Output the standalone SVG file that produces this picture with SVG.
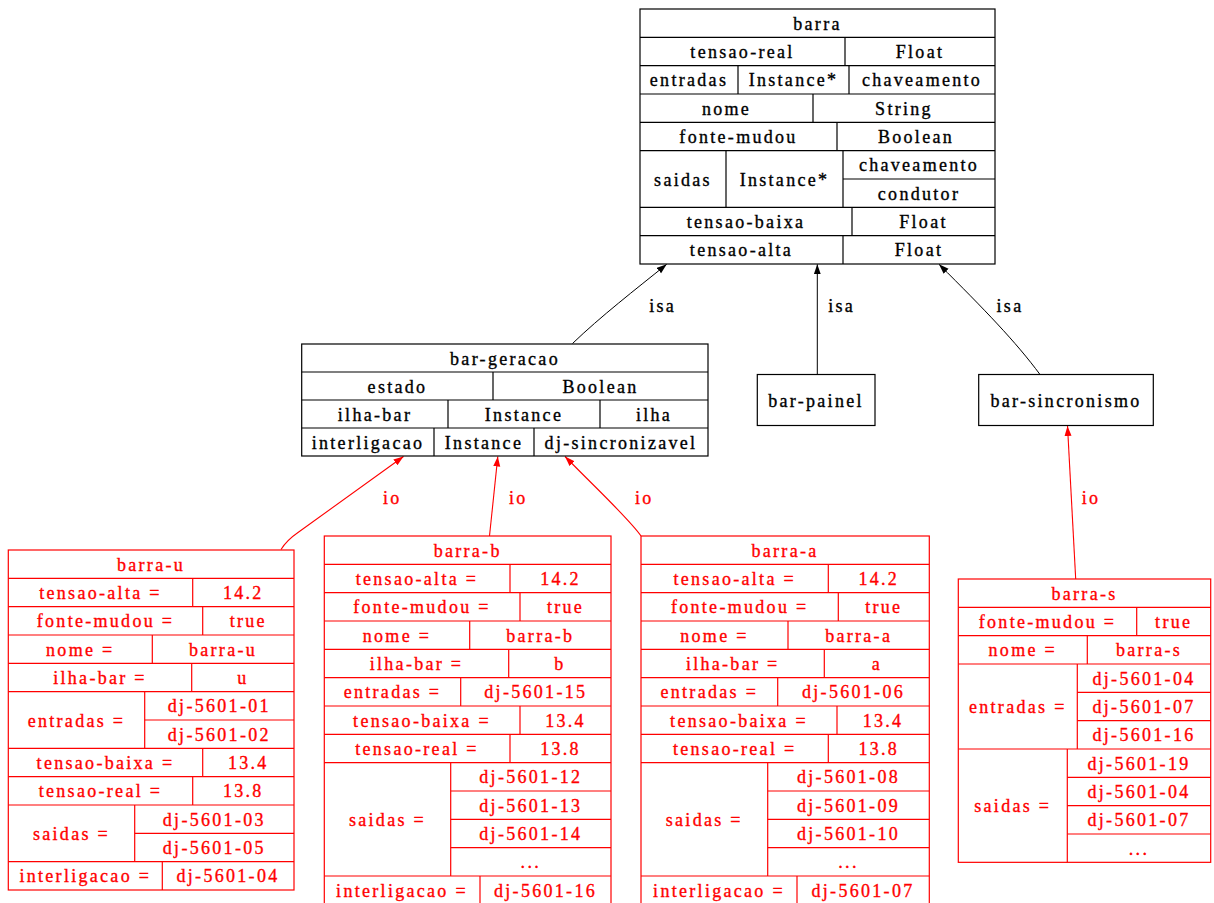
<svg xmlns="http://www.w3.org/2000/svg" width="1214" height="903" viewBox="0 0 1214 903">
<style>
text{font-family:"Liberation Serif","Times New Roman",serif;font-size:18px;letter-spacing:2.3px;text-anchor:middle;stroke-width:0.35px}
.k text,text.k{fill:#000;stroke:#000}
.r text,text.r{fill:#f00;stroke:#f00}
.k rect,.k line{fill:none;stroke:#000;stroke-width:1.2}
.r rect,.r line{fill:none;stroke:#f00;stroke-width:1.2}
.ek{fill:none;stroke:#000;stroke-width:1}
.er{fill:none;stroke:#f00;stroke-width:1.1}
</style>
<defs>
<marker id="ak" markerUnits="userSpaceOnUse" markerWidth="11" markerHeight="8" refX="10" refY="3.5" orient="auto"><path d="M0,0 L10,3.5 L0,7 z" fill="#000"/></marker>
<marker id="ar" markerUnits="userSpaceOnUse" markerWidth="11" markerHeight="8" refX="10" refY="3.5" orient="auto"><path d="M0,0 L10,3.5 L0,7 z" fill="#f00"/></marker>
</defs>
<rect width="1214" height="903" fill="#fff"/>

<g id="connectors">
<path class="ek" d="M572.5,343.5 C600,317 636,289 666.7,264.3" marker-end="url(#ak)"/>
<path class="ek" d="M817.3,374.5 L817.3,264.3" marker-end="url(#ak)"/>
<path class="ek" d="M1040,374.5 C1016,342 984,309 939,264.3" marker-end="url(#ak)"/>
<text class="k" x="662.7" y="311.5">isa</text>
<text class="k" x="841.7" y="311.5">isa</text>
<text class="k" x="1010" y="311.5">isa</text>
<path class="er" d="M281,549.5 C285,543 290,538 298,532.5 L403.5,456.5" marker-end="url(#ar)"/>
<path class="er" d="M489.5,536 L497.8,456.5" marker-end="url(#ar)"/>
<path class="er" d="M641,536 C630,520 605,497 565,456.5" marker-end="url(#ar)"/>
<path class="er" d="M1075.7,579 L1067.5,426" marker-end="url(#ar)"/>
<text class="r" x="392.3" y="503.5">io</text>
<text class="r" x="518.3" y="503.5">io</text>
<text class="r" x="644.3" y="503.5">io</text>
<text class="r" x="1091" y="503.5">io</text>
</g>

<g id="barra" class="k">
<rect x="640" y="9" width="355" height="255"/>
<line x1="640" y1="37.33" x2="995" y2="37.33"/>
<line x1="640" y1="65.67" x2="995" y2="65.67"/>
<line x1="640" y1="94" x2="995" y2="94"/>
<line x1="640" y1="122.33" x2="995" y2="122.33"/>
<line x1="640" y1="150.67" x2="995" y2="150.67"/>
<line x1="843" y1="179" x2="995" y2="179"/>
<line x1="640" y1="207.33" x2="995" y2="207.33"/>
<line x1="640" y1="235.67" x2="995" y2="235.67"/>
<line x1="845" y1="37.33" x2="845" y2="65.67"/>
<line x1="738" y1="65.67" x2="738" y2="94"/>
<line x1="849" y1="65.67" x2="849" y2="94"/>
<line x1="813" y1="94" x2="813" y2="122.33"/>
<line x1="837" y1="122.33" x2="837" y2="150.67"/>
<line x1="726" y1="150.67" x2="726" y2="207.33"/>
<line x1="843" y1="150.67" x2="843" y2="207.33"/>
<line x1="852" y1="207.33" x2="852" y2="235.67"/>
<line x1="843" y1="235.67" x2="843" y2="264"/>
<text x="817.5" y="29.7">barra</text>
<text x="742.5" y="58">tensao-real</text>
<text x="920" y="58">Float</text>
<text x="689" y="86.3">entradas</text>
<text x="793.5" y="86.3">Instance*</text>
<text x="922" y="86.3">chaveamento</text>
<text x="726.5" y="114.7">nome</text>
<text x="904" y="114.7">String</text>
<text x="738.5" y="143">fonte-mudou</text>
<text x="916" y="143">Boolean</text>
<text x="683" y="185.5">saidas</text>
<text x="784.5" y="185.5">Instance*</text>
<text x="919" y="171.3">chaveamento</text>
<text x="919" y="199.7">condutor</text>
<text x="746" y="228">tensao-baixa</text>
<text x="923.5" y="228">Float</text>
<text x="741.5" y="256.3">tensao-alta</text>
<text x="919" y="256.3">Float</text>
</g>

<g id="bar-geracao" class="k">
<rect x="301.7" y="344" width="406.3" height="112"/>
<line x1="301.7" y1="372" x2="708" y2="372"/>
<line x1="301.7" y1="400" x2="708" y2="400"/>
<line x1="301.7" y1="428" x2="708" y2="428"/>
<line x1="493" y1="372" x2="493" y2="400"/>
<line x1="448" y1="400" x2="448" y2="428"/>
<line x1="600" y1="400" x2="600" y2="428"/>
<line x1="434" y1="428" x2="434" y2="456"/>
<line x1="534" y1="428" x2="534" y2="456"/>
<text x="505" y="364.5">bar-geracao</text>
<text x="397.5" y="392.5">estado</text>
<text x="600.5" y="392.5">Boolean</text>
<text x="375" y="420.5">ilha-bar</text>
<text x="524" y="420.5">Instance</text>
<text x="654" y="420.5">ilha</text>
<text x="368" y="448.5">interligacao</text>
<text x="484" y="448.5">Instance</text>
<text x="621" y="448.5">dj-sincronizavel</text>
</g>

<g id="bar-painel" class="k">
<rect x="757.3" y="374.5" width="117.7" height="51"/>
<text x="816" y="406.5">bar-painel</text>
</g>

<g id="bar-sincronismo" class="k">
<rect x="978.7" y="374.5" width="174.6" height="51"/>
<text x="1066" y="406.5">bar-sincronismo</text>
</g>

<g id="barra-u" class="r">
<rect x="8.3" y="550" width="285.7" height="340"/>
<line x1="8.3" y1="578.33" x2="294" y2="578.33"/>
<line x1="8.3" y1="606.67" x2="294" y2="606.67"/>
<line x1="8.3" y1="635" x2="294" y2="635"/>
<line x1="8.3" y1="663.33" x2="294" y2="663.33"/>
<line x1="8.3" y1="691.67" x2="294" y2="691.67"/>
<line x1="144.7" y1="720" x2="294" y2="720"/>
<line x1="8.3" y1="748.33" x2="294" y2="748.33"/>
<line x1="8.3" y1="776.67" x2="294" y2="776.67"/>
<line x1="8.3" y1="805" x2="294" y2="805"/>
<line x1="134.7" y1="833.33" x2="294" y2="833.33"/>
<line x1="8.3" y1="861.67" x2="294" y2="861.67"/>
<line x1="192.7" y1="578.33" x2="192.7" y2="606.67"/>
<line x1="202.7" y1="606.67" x2="202.7" y2="635"/>
<line x1="152.3" y1="635" x2="152.3" y2="663.33"/>
<line x1="191.7" y1="663.33" x2="191.7" y2="691.67"/>
<line x1="144.7" y1="691.67" x2="144.7" y2="748.33"/>
<line x1="202.7" y1="748.33" x2="202.7" y2="776.67"/>
<line x1="192.7" y1="776.67" x2="192.7" y2="805"/>
<line x1="134.7" y1="805" x2="134.7" y2="861.67"/>
<line x1="162.3" y1="861.67" x2="162.3" y2="890"/>
<text x="151" y="570.7">barra-u</text>
<text x="100.5" y="599">tensao-alta =</text>
<text x="243.3" y="599">14.2</text>
<text x="105.5" y="627.3">fonte-mudou =</text>
<text x="248.3" y="627.3">true</text>
<text x="80.3" y="655.7">nome =</text>
<text x="223" y="655.7">barra-u</text>
<text x="100" y="684">ilha-bar =</text>
<text x="243" y="684">u</text>
<text x="76.5" y="726.5">entradas =</text>
<text x="219.3" y="712.3">dj-5601-01</text>
<text x="219.3" y="740.7">dj-5601-02</text>
<text x="105.5" y="769">tensao-baixa =</text>
<text x="248.3" y="769">13.4</text>
<text x="100.5" y="797.3">tensao-real =</text>
<text x="243.3" y="797.3">13.8</text>
<text x="71.5" y="839.8">saidas =</text>
<text x="214.3" y="825.7">dj-5601-03</text>
<text x="214.3" y="854">dj-5601-05</text>
<text x="85.3" y="882.3">interligacao =</text>
<text x="228" y="882.3">dj-5601-04</text>
</g>

<g id="barra-b" class="r">
<rect x="324.3" y="536" width="286.7" height="368.33"/>
<line x1="324.3" y1="564.33" x2="611" y2="564.33"/>
<line x1="324.3" y1="592.67" x2="611" y2="592.67"/>
<line x1="324.3" y1="621" x2="611" y2="621"/>
<line x1="324.3" y1="649.33" x2="611" y2="649.33"/>
<line x1="324.3" y1="677.67" x2="611" y2="677.67"/>
<line x1="324.3" y1="706" x2="611" y2="706"/>
<line x1="324.3" y1="734.33" x2="611" y2="734.33"/>
<line x1="324.3" y1="762.67" x2="611" y2="762.67"/>
<line x1="450.7" y1="791" x2="611" y2="791"/>
<line x1="450.7" y1="819.33" x2="611" y2="819.33"/>
<line x1="450.7" y1="847.67" x2="611" y2="847.67"/>
<line x1="324.3" y1="876" x2="611" y2="876"/>
<line x1="510" y1="564.33" x2="510" y2="592.67"/>
<line x1="520" y1="592.67" x2="520" y2="621"/>
<line x1="469.7" y1="621" x2="469.7" y2="649.33"/>
<line x1="508.7" y1="649.33" x2="508.7" y2="677.67"/>
<line x1="460.7" y1="677.67" x2="460.7" y2="706"/>
<line x1="520" y1="706" x2="520" y2="734.33"/>
<line x1="510" y1="734.33" x2="510" y2="762.67"/>
<line x1="450.7" y1="762.67" x2="450.7" y2="876"/>
<line x1="480" y1="876" x2="480" y2="904.33"/>
<text x="467.7" y="556.7">barra-b</text>
<text x="417" y="585">tensao-alta =</text>
<text x="560.5" y="585">14.2</text>
<text x="422" y="613.3">fonte-mudou =</text>
<text x="565.5" y="613.3">true</text>
<text x="397" y="641.7">nome =</text>
<text x="540.3" y="641.7">barra-b</text>
<text x="416.5" y="670">ilha-bar =</text>
<text x="560" y="670">b</text>
<text x="392.5" y="698.3">entradas =</text>
<text x="535.8" y="698.3">dj-5601-15</text>
<text x="422" y="726.7">tensao-baixa =</text>
<text x="565.5" y="726.7">13.4</text>
<text x="417" y="755">tensao-real =</text>
<text x="560.5" y="755">13.8</text>
<text x="387.5" y="825.8">saidas =</text>
<text x="530.8" y="783.3">dj-5601-12</text>
<text x="530.8" y="811.7">dj-5601-13</text>
<text x="530.8" y="840">dj-5601-14</text>
<text x="530.8" y="868.3">...</text>
<text x="402" y="896.7">interligacao =</text>
<text x="545.5" y="896.7">dj-5601-16</text>
</g>

<g id="barra-a" class="r">
<rect x="641" y="536" width="288.3" height="368.33"/>
<line x1="641" y1="564.33" x2="929.3" y2="564.33"/>
<line x1="641" y1="592.67" x2="929.3" y2="592.67"/>
<line x1="641" y1="621" x2="929.3" y2="621"/>
<line x1="641" y1="649.33" x2="929.3" y2="649.33"/>
<line x1="641" y1="677.67" x2="929.3" y2="677.67"/>
<line x1="641" y1="706" x2="929.3" y2="706"/>
<line x1="641" y1="734.33" x2="929.3" y2="734.33"/>
<line x1="641" y1="762.67" x2="929.3" y2="762.67"/>
<line x1="767.7" y1="791" x2="929.3" y2="791"/>
<line x1="767.7" y1="819.33" x2="929.3" y2="819.33"/>
<line x1="767.7" y1="847.67" x2="929.3" y2="847.67"/>
<line x1="641" y1="876" x2="929.3" y2="876"/>
<line x1="828.3" y1="564.33" x2="828.3" y2="592.67"/>
<line x1="838.3" y1="592.67" x2="838.3" y2="621"/>
<line x1="788" y1="621" x2="788" y2="649.33"/>
<line x1="824.3" y1="649.33" x2="824.3" y2="677.67"/>
<line x1="777.7" y1="677.67" x2="777.7" y2="706"/>
<line x1="837" y1="706" x2="837" y2="734.33"/>
<line x1="828.3" y1="734.33" x2="828.3" y2="762.67"/>
<line x1="767.7" y1="762.67" x2="767.7" y2="876"/>
<line x1="797" y1="876" x2="797" y2="904.33"/>
<text x="785" y="556.7">barra-a</text>
<text x="734.7" y="585">tensao-alta =</text>
<text x="878.8" y="585">14.2</text>
<text x="739.7" y="613.3">fonte-mudou =</text>
<text x="883.8" y="613.3">true</text>
<text x="714.5" y="641.7">nome =</text>
<text x="858.7" y="641.7">barra-a</text>
<text x="732.7" y="670">ilha-bar =</text>
<text x="876.8" y="670">a</text>
<text x="709.3" y="698.3">entradas =</text>
<text x="853.5" y="698.3">dj-5601-06</text>
<text x="739" y="726.7">tensao-baixa =</text>
<text x="883" y="726.7">13.4</text>
<text x="734.7" y="755">tensao-real =</text>
<text x="878.8" y="755">13.8</text>
<text x="704.3" y="825.8">saidas =</text>
<text x="848.5" y="783.3">dj-5601-08</text>
<text x="848.5" y="811.7">dj-5601-09</text>
<text x="848.5" y="840">dj-5601-10</text>
<text x="848.5" y="868.3">...</text>
<text x="719" y="896.7">interligacao =</text>
<text x="863" y="896.7">dj-5601-07</text>
</g>

<g id="barra-s" class="r">
<rect x="958.3" y="579" width="252.4" height="283.33"/>
<line x1="958.3" y1="607.33" x2="1210.7" y2="607.33"/>
<line x1="958.3" y1="635.67" x2="1210.7" y2="635.67"/>
<line x1="958.3" y1="664" x2="1210.7" y2="664"/>
<line x1="1077.3" y1="692.33" x2="1210.7" y2="692.33"/>
<line x1="1077.3" y1="720.67" x2="1210.7" y2="720.67"/>
<line x1="958.3" y1="749" x2="1210.7" y2="749"/>
<line x1="1067.3" y1="777.33" x2="1210.7" y2="777.33"/>
<line x1="1067.3" y1="805.67" x2="1210.7" y2="805.67"/>
<line x1="1067.3" y1="834" x2="1210.7" y2="834"/>
<line x1="1136.7" y1="607.33" x2="1136.7" y2="635.67"/>
<line x1="1087.3" y1="635.67" x2="1087.3" y2="664"/>
<line x1="1077.3" y1="664" x2="1077.3" y2="749"/>
<line x1="1067.3" y1="749" x2="1067.3" y2="862.33"/>
<text x="1084.5" y="599.7">barra-s</text>
<text x="1047.5" y="628">fonte-mudou =</text>
<text x="1173.7" y="628">true</text>
<text x="1022.8" y="656.3">nome =</text>
<text x="1149" y="656.3">barra-s</text>
<text x="1017.8" y="713">entradas =</text>
<text x="1144" y="684.7">dj-5601-04</text>
<text x="1144" y="713">dj-5601-07</text>
<text x="1144" y="741.3">dj-5601-16</text>
<text x="1012.8" y="812.2">saidas =</text>
<text x="1139" y="769.7">dj-5601-19</text>
<text x="1139" y="798">dj-5601-04</text>
<text x="1139" y="826.3">dj-5601-07</text>
<text x="1139" y="854.7">...</text>
</g>
</svg>
